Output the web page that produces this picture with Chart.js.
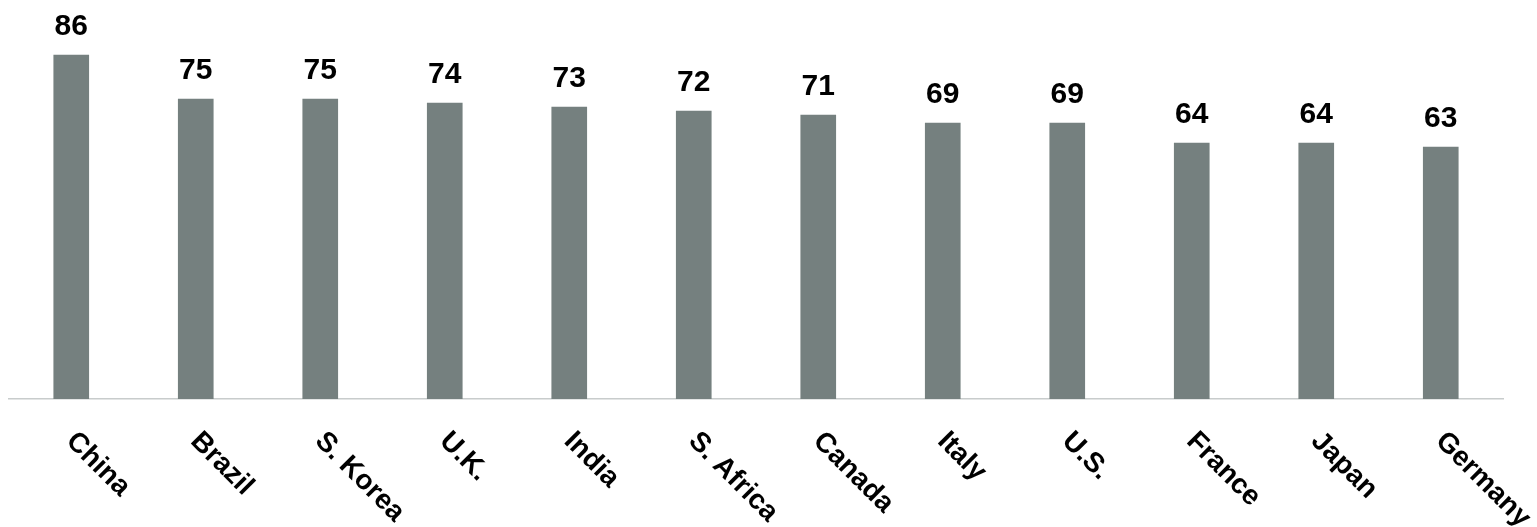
<!DOCTYPE html>
<html>
<head>
<meta charset="utf-8">
<script src="https://cdn.jsdelivr.net/npm/chart.js@4"></script>
<style>
  html, body { margin: 0; padding: 0; background: #fff; }
  #wrap { width: 1537px; height: 527px; }
</style>
</head>
<body>
<div id="wrap"><canvas id="chart"></canvas></div>
<script>
const countries = ['China', 'Brazil', 'S. Korea', 'U.K.', 'India', 'S. Africa', 'Canada', 'Italy', 'U.S.', 'France', 'Japan', 'Germany'];
const scores = [86, 75, 75, 74, 73, 72, 71, 69, 69, 64, 64, 63];

const FONT = '"Liberation Sans", Arial, sans-serif';

// value labels above bars + rotated country names under the axis
const labelPlugin = {
  id: 'labels',
  afterDatasetsDraw(chart) {
    const ctx = chart.ctx;
    const x = chart.scales.x;
    const y = chart.scales.y;
    ctx.save();
    ctx.fillStyle = '#000';

    ctx.font = 'bold 30px ' + FONT;
    ctx.textAlign = 'center';
    ctx.textBaseline = 'alphabetic';
    scores.forEach((v, i) => {
      ctx.fillText(String(v), x.getPixelForValue(i), y.getPixelForValue(v) - 20);
    });

    ctx.font = 'bold 28px ' + FONT;
    ctx.textAlign = 'left';
    ctx.textBaseline = 'top';
    countries.forEach((c, i) => {
      ctx.save();
      ctx.translate(x.getPixelForValue(i) + 9, y.bottom + 28);
      ctx.rotate(Math.PI / 4);
      ctx.fillText(c, 0, 0);
      ctx.restore();
    });
    ctx.restore();
  }
};

new Chart(document.getElementById('chart'), {
  type: 'bar',
  data: {
    labels: countries,
    datasets: [{
      data: scores,
      backgroundColor: '#75807f',
      barThickness: 35
    }]
  },
  options: {
    responsive: true,
    maintainAspectRatio: false,
    animation: false,
    layout: { padding: { left: 9, right: 34, top: 0, bottom: 128 } },
    plugins: { legend: { display: false }, tooltip: { enabled: false } },
    scales: {
      x: {
        grid: { display: true, color: 'transparent', drawTicks: false },
        border: { display: true, color: '#c8cccc', width: 1.5 },
        ticks: { display: false }
      },
      y: {
        display: false,
        min: 0,
        max: 99.75
      }
    }
  },
  plugins: [labelPlugin]
});
</script>
</body>
</html>
